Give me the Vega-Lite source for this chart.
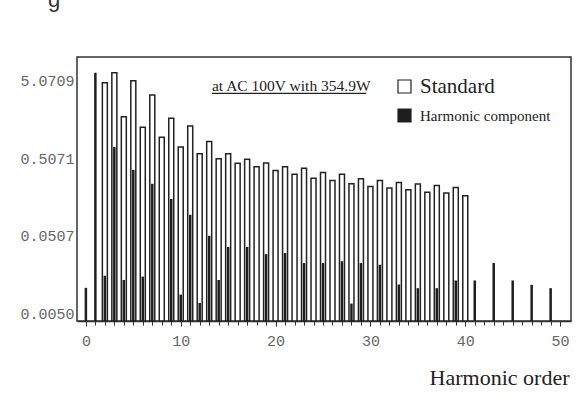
{
  "$schema": "https://vega.github.io/schema/vega-lite/v6.json",
  "width": 494,
  "height": 264,
  "autosize": {"type": "none"},
  "padding": {"left": 77, "top": 57, "right": 8, "bottom": 98},
  "background": "white",
  "config": {"view": {"stroke": "#333", "strokeWidth": 1.5}},
  "title": {"text": "g", "anchor": "start", "frame": "group", "font": "Liberation Sans", "fontSize": 22, "fontWeight": "normal", "color": "#333", "dx": -29, "dy": 18, "offset": 46, "baseline": "alphabetic"},
  "datasets": {
    "bars": [
      {"order": 2, "value": 4.82, "series": "Standard"},
      {"order": 3, "value": 6.48, "series": "Standard"},
      {"order": 4, "value": 1.75, "series": "Standard"},
      {"order": 5, "value": 5.12, "series": "Standard"},
      {"order": 6, "value": 1.28, "series": "Standard"},
      {"order": 7, "value": 3.33, "series": "Standard"},
      {"order": 8, "value": 0.949, "series": "Standard"},
      {"order": 9, "value": 1.67, "series": "Standard"},
      {"order": 10, "value": 0.71, "series": "Standard"},
      {"order": 11, "value": 1.32, "series": "Standard"},
      {"order": 12, "value": 0.577, "series": "Standard"},
      {"order": 13, "value": 0.833, "series": "Standard"},
      {"order": 14, "value": 0.497, "series": "Standard"},
      {"order": 15, "value": 0.577, "series": "Standard"},
      {"order": 16, "value": 0.437, "series": "Standard"},
      {"order": 17, "value": 0.49, "series": "Standard"},
      {"order": 18, "value": 0.394, "series": "Standard"},
      {"order": 19, "value": 0.44, "series": "Standard"},
      {"order": 20, "value": 0.35, "series": "Standard"},
      {"order": 21, "value": 0.394, "series": "Standard"},
      {"order": 22, "value": 0.315, "series": "Standard"},
      {"order": 23, "value": 0.376, "series": "Standard"},
      {"order": 24, "value": 0.279, "series": "Standard"},
      {"order": 25, "value": 0.331, "series": "Standard"},
      {"order": 26, "value": 0.26, "series": "Standard"},
      {"order": 27, "value": 0.315, "series": "Standard"},
      {"order": 28, "value": 0.236, "series": "Standard"},
      {"order": 29, "value": 0.274, "series": "Standard"},
      {"order": 30, "value": 0.218, "series": "Standard"},
      {"order": 31, "value": 0.26, "series": "Standard"},
      {"order": 32, "value": 0.208, "series": "Standard"},
      {"order": 33, "value": 0.245, "series": "Standard"},
      {"order": 34, "value": 0.198, "series": "Standard"},
      {"order": 35, "value": 0.234, "series": "Standard"},
      {"order": 36, "value": 0.184, "series": "Standard"},
      {"order": 37, "value": 0.224, "series": "Standard"},
      {"order": 38, "value": 0.179, "series": "Standard"},
      {"order": 39, "value": 0.212, "series": "Standard"},
      {"order": 40, "value": 0.165, "series": "Standard"},
      {"order": 0, "value": 0.0106, "series": "Harmonic component"},
      {"order": 1, "value": 6.48, "series": "Harmonic component"},
      {"order": 2, "value": 0.0152, "series": "Harmonic component"},
      {"order": 3, "value": 0.71, "series": "Harmonic component"},
      {"order": 4, "value": 0.0134, "series": "Harmonic component"},
      {"order": 5, "value": 0.358, "series": "Harmonic component"},
      {"order": 6, "value": 0.0148, "series": "Harmonic component"},
      {"order": 7, "value": 0.236, "series": "Harmonic component"},
      {"order": 9, "value": 0.15, "series": "Harmonic component"},
      {"order": 10, "value": 0.00866, "series": "Harmonic component"},
      {"order": 11, "value": 0.0937, "series": "Harmonic component"},
      {"order": 12, "value": 0.00676, "series": "Harmonic component"},
      {"order": 13, "value": 0.05, "series": "Harmonic component"},
      {"order": 14, "value": 0.0134, "series": "Harmonic component"},
      {"order": 15, "value": 0.0358, "series": "Harmonic component"},
      {"order": 17, "value": 0.0358, "series": "Harmonic component"},
      {"order": 19, "value": 0.029, "series": "Harmonic component"},
      {"order": 21, "value": 0.0299, "series": "Harmonic component"},
      {"order": 23, "value": 0.0222, "series": "Harmonic component"},
      {"order": 25, "value": 0.0222, "series": "Harmonic component"},
      {"order": 27, "value": 0.0234, "series": "Harmonic component"},
      {"order": 28, "value": 0.00662, "series": "Harmonic component"},
      {"order": 29, "value": 0.0222, "series": "Harmonic component"},
      {"order": 31, "value": 0.0211, "series": "Harmonic component"},
      {"order": 33, "value": 0.0117, "series": "Harmonic component"},
      {"order": 35, "value": 0.0105, "series": "Harmonic component"},
      {"order": 37, "value": 0.0105, "series": "Harmonic component"},
      {"order": 39, "value": 0.0132, "series": "Harmonic component"},
      {"order": 41, "value": 0.0132, "series": "Harmonic component"},
      {"order": 43, "value": 0.0222, "series": "Harmonic component"},
      {"order": 45, "value": 0.0132, "series": "Harmonic component"},
      {"order": 47, "value": 0.0116, "series": "Harmonic component"},
      {"order": 49, "value": 0.0105, "series": "Harmonic component"}
    ],
    "note": [{"note": "at AC 100V with 354.9W"}]
  },
  "resolve": {"axis": {"x": "independent"}},
  "layer": [
    {"data": {"name": "bars"},
     "transform": [{"filter": "datum.series === 'Standard'"}],
     "mark": {"type": "bar", "size": 5, "stroke": "#222", "strokeWidth": 1.5},
     "encoding": {
       "x": {"field": "order", "type": "quantitative",
         "scale": {"domain": [-0.41, 50.62], "nice": false, "zero": false},
         "axis": {"orient": "bottom", "values": [0, 10, 20, 30, 40, 50], "format": "d",
           "labelOverlap": false, "labelFlush": false, "grid": false,
           "tickSize": 5, "tickColor": "#333", "domainColor": "#333", "domainWidth": 1.5,
           "labelFont": "Liberation Mono", "labelFontSize": 15, "labelColor": "#666", "labelPadding": 7,
           "title": "Harmonic order", "titleFont": "Liberation Serif", "titleFontSize": 22, "titleFontWeight": "normal", "titleColor": "#222",
           "titleAnchor": "end", "titleAlign": "right", "titleBaseline": "alphabetic", "titleX": 492, "titleY": 63}},
       "y": {"field": "value", "type": "quantitative",
         "scale": {"type": "log", "domain": [0.00394, 10.37], "nice": false, "zero": false},
         "axis": {"values": [0.005, 0.0507, 0.5071, 5.0709], "format": ".4f", "tickSize": 0, "domain": false, "grid": false,
           "labelFont": "Liberation Mono", "labelFontSize": 15, "labelColor": "#666", "labelPadding": 3, "title": null}},
       "y2": {"datum": 0.00394},
       "fill": {"field": "series", "type": "nominal",
         "scale": {"domain": ["Standard", "Harmonic component"], "range": ["#ffffff", "#1e1e1e"]},
         "legend": {"title": null, "orient": "none", "legendX": 320, "legendY": 22, "symbolType": "square", "symbolSize": 169,
           "symbolStrokeColor": "#222", "symbolStrokeWidth": 1.2, "labelFont": "Liberation Serif", "labelFontSize": 18, "labelColor": "#222",
           "labelOffset": 8, "rowPadding": 9, "padding": 0,
           "encode": {"labels": {"update": {"fontSize": {"signal": "datum.value === 'Standard' ? 21 : 15"}}},
                      "symbols": {"update": {"stroke": {"value": "#222"}, "strokeWidth": {"value": 1.2}}}}}}
     }},
    {"data": {"name": "bars"},
     "transform": [{"filter": "datum.series === 'Harmonic component'"}],
     "mark": {"type": "bar", "size": 2.5},
     "encoding": {
       "x": {"field": "order", "type": "quantitative",
         "axis": {"orient": "bottom", "values": [0,1,2,3,4,5,6,7,8,9,11,12,13,14,15,16,17,18,19,21,22,23,24,25,26,27,28,29,31,32,33,34,35,36,37,38,39,41,42,43,44,45,46,47,48,49],
           "labels": false, "domain": false, "grid": false, "tickSize": 4, "tickColor": "#333", "title": null}},
       "y": {"field": "value", "type": "quantitative"},
       "y2": {"datum": 0.00394},
       "fill": {"field": "series", "type": "nominal"}
     }},
    {"data": {"name": "note"},
     "mark": {"type": "text", "align": "left", "baseline": "alphabetic", "font": "Liberation Serif", "fontSize": 15.5, "color": "#222"},
     "encoding": {"x": {"datum": 13.29, "type": "quantitative", "axis": null}, "y": {"datum": 3.765, "type": "quantitative"}, "text": {"field": "note", "type": "nominal"}}},
    {"data": {"name": "note"},
     "mark": {"type": "rule", "color": "#222", "strokeWidth": 1.2},
     "encoding": {"x": {"datum": 13.29, "type": "quantitative", "axis": null}, "x2": {"datum": 29.56}, "y": {"datum": 3.51, "type": "quantitative"}}}
  ]
}
